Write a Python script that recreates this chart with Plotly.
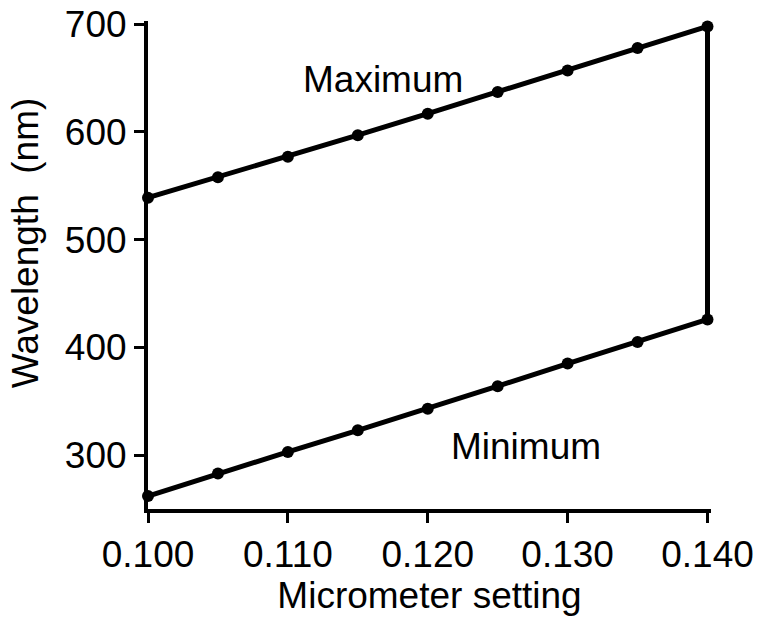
import plotly.graph_objects as go

# Micrometer setting vs. wavelength limits of the monochromator
micrometer = [0.100, 0.105, 0.110, 0.115, 0.120, 0.125, 0.130, 0.135, 0.140]
max_wavelength = [539, 558, 577, 597, 617, 637, 657, 678, 698]
min_wavelength = [262, 283, 303, 323, 343, 364, 385, 405, 426]

x_ticks = [0.100, 0.110, 0.120, 0.130, 0.140]
y_ticks = [300, 400, 500, 600, 700]

FONT = "Liberation Sans, Arial, Helvetica, sans-serif"
INK = "black"

fig = go.Figure()

for series in (max_wavelength, min_wavelength):
    fig.add_trace(go.Scatter(
        x=micrometer, y=series, mode="lines+markers",
        line=dict(color=INK, width=5),
        marker=dict(color=INK, size=12),
        cliponaxis=False, showlegend=False, hoverinfo="x+y",
    ))

# closing edge at the highest micrometer setting
fig.add_trace(go.Scatter(
    x=[micrometer[-1], micrometer[-1]],
    y=[min_wavelength[-1], max_wavelength[-1]],
    mode="lines", line=dict(color=INK, width=5),
    cliponaxis=False, showlegend=False, hoverinfo="skip",
))

fig.add_annotation(x=0.1168, y=649, text="Maximum", showarrow=False,
                   font=dict(family=FONT, size=37, color=INK))
fig.add_annotation(x=0.127, y=308, text="Minimum", showarrow=False,
                   font=dict(family=FONT, size=37, color=INK))

fig.add_annotation(x=-0.218, y=0.545, xref="paper", yref="paper",
                   xanchor="center", yanchor="middle",
                   text="Wavelength  (nm)", textangle=-90, showarrow=False,
                   font=dict(family=FONT, size=37, color=INK))

fig.update_layout(
    width=758, height=618,
    margin=dict(l=148, r=47, t=21, b=109),
    paper_bgcolor="white", plot_bgcolor="white",
    font=dict(family=FONT, size=37, color=INK),
)

fig.update_xaxes(
    range=[0.100, 0.14025], tickvals=x_ticks,
    ticktext=[f"{v:.3f}" for v in x_ticks],
    showgrid=False, zeroline=False, automargin=False,
    showline=True, linecolor=INK, linewidth=4,
    ticks="outside", ticklen=10, tickwidth=3, tickcolor=INK,
    tickfont=dict(family=FONT, size=37, color=INK),
    title=dict(text="Micrometer setting", standoff=4,
               font=dict(family=FONT, size=37, color=INK)),
)
fig.update_yaxes(
    range=[250, 703], tickvals=y_ticks,
    showgrid=False, zeroline=False, automargin=False,
    showline=True, linecolor=INK, linewidth=4,
    ticks="outside", ticklen=10, tickwidth=3, tickcolor=INK,
    tickfont=dict(family=FONT, size=37, color=INK),
)

fig.write_html("out.html")
